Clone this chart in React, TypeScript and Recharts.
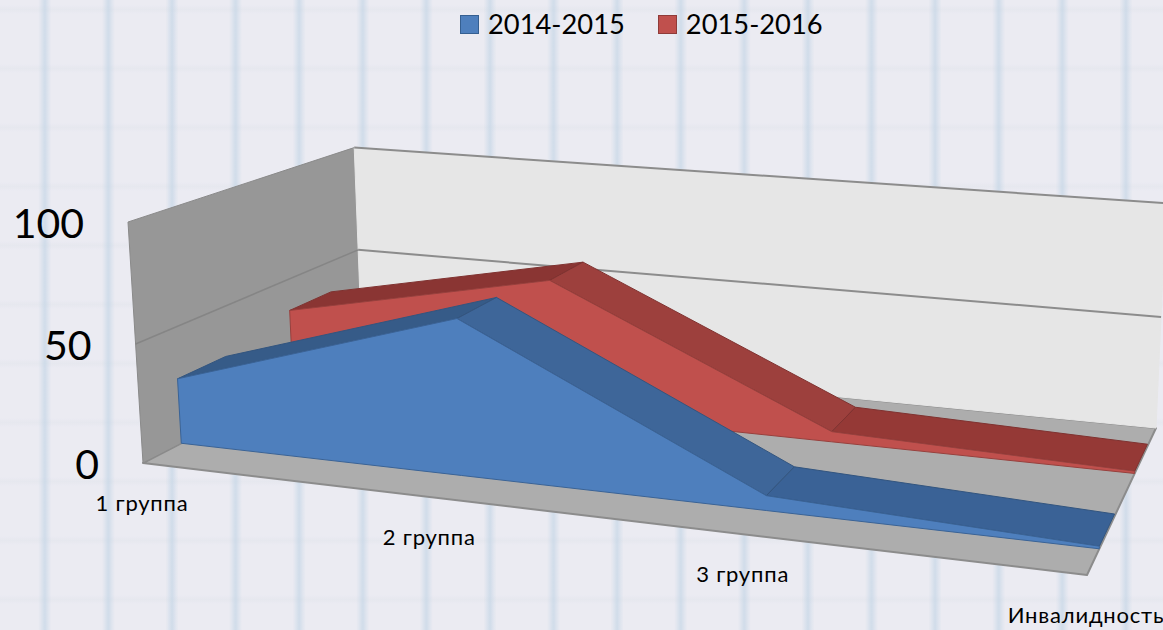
import { ScatterChart, Scatter, XAxis, YAxis, Legend } from "recharts";

const WIDTH = 1163;
const HEIGHT = 630;

const categories = ["1 группа", "2 группа", "3 группа", "Инвалидность"];
const seriesNames = ["2014-2015", "2015-2016"];
const values2014 = [28, 65, 6, 1];
const values2015 = [35.5, 60, 4.5, 1];
const valueTicks = [0, 50, 100];

const seriesColors = [
  { front: "#4e7fbd", edge: "#3a6396", strips: ["#365b88", "#3e6699", "#3a6296"], crease: "#33557f", legend: "#355f91" },
  { front: "#c0504d", edge: "#98403d", strips: ["#8a3533", "#9d403d", "#953936"], crease: "#7f3230", legend: "#8f3b39" },
];
const seriesDepths = [
  [0.15, 0.35],
  [0.645, 0.85],
];

// corners of the 3D box on the page, everything else goes through project()
const P0 = [143, 463];
const PU = [1087, 575];
const PD = [362, 350];
const PUD = [1156, 428];
const PV = [128, 222];
const WV = 0.975;

const a1 = PU[0] - PUD[0];
const b1 = PD[0] - PUD[0];
const c1 = P0[0] - PUD[0];
const a2 = PU[1] - PUD[1];
const b2 = PD[1] - PUD[1];
const c2 = P0[1] - PUD[1];
const det = a1 * b2 - b1 * a2;
const WU = (c1 * b2 - b1 * c2) / det;
const WD = (a1 * c2 - c1 * a2) / det;

// u: 0..1 along categories, value: 0..100, d: 0..1 into the depth
function project(u: number, value: number, d: number) {
  const v = value / 100;
  const hx = P0[0] + u * (WU * PU[0] - P0[0]) + d * (WD * PD[0] - P0[0]) + v * (WV * PV[0] - P0[0]);
  const hy = P0[1] + u * (WU * PU[1] - P0[1]) + d * (WD * PD[1] - P0[1]) + v * (WV * PV[1] - P0[1]);
  const w = 1 + u * (WU - 1) + d * (WD - 1) + v * (WV - 1);
  return { x: hx / w, y: hy / w };
}

const uOf = (i: number) => i / (categories.length - 1);

type Pt = { x: number; y: number; label?: string };

function face(key: string, data: Pt[], fill: string, stroke: string, strokeWidth = 1) {
  return (
    <Scatter
      key={key}
      data={data}
      isAnimationActive={false}
      legendType="none"
      shape={() => <g />}
      line={(p: any) => (
        <polygon
          points={p.points.map((q: Pt) => `${q.x},${q.y}`).join(" ")}
          fill={fill}
          stroke={stroke}
          strokeWidth={strokeWidth}
          strokeLinejoin="round"
        />
      )}
    />
  );
}

function rule(key: string, data: Pt[], stroke: string, strokeWidth: number) {
  return (
    <Scatter
      key={key}
      data={data}
      isAnimationActive={false}
      legendType="none"
      shape={() => <g />}
      line={(p: any) => (
        <polyline
          points={p.points.map((q: Pt) => `${q.x},${q.y}`).join(" ")}
          fill="none"
          stroke={stroke}
          strokeWidth={strokeWidth}
        />
      )}
    />
  );
}

function labels(key: string, data: Pt[], fontSize: number, anchor: "middle" | "end", spacing = 0) {
  return (
    <Scatter
      key={key}
      data={data}
      isAnimationActive={false}
      legendType="none"
      shape={(p: any) => (
        <text
          x={p.cx}
          y={p.cy}
          textAnchor={anchor}
          dominantBaseline="central"
          fontSize={fontSize}
          fontFamily="Lato"
          letterSpacing={spacing}
          fill="#000"
        >
          {p.payload.label}
        </text>
      )}
    />
  );
}

function seriesFaces(values: number[], index: number) {
  const [dFront, dBack] = seriesDepths[index];
  const c = seriesColors[index];
  const top = values.map((v, i) => project(uOf(i), v, dFront));
  const base = values.map((_, i) => project(uOf(i), 0, dFront)).reverse();
  const strips = values.slice(1).map((v, i) =>
    face(
      `strip-${index}-${i}`,
      [
        project(uOf(i), values[i], dFront),
        project(uOf(i), values[i], dBack),
        project(uOf(i + 1), v, dBack),
        project(uOf(i + 1), v, dFront),
      ],
      c.strips[i],
      c.crease
    )
  );
  return [...strips, face(`front-${index}`, [...top, ...base], c.front, c.edge)];
}

const seriesLegend = () => (
  <div
    style={{
      display: "flex",
      justifyContent: "flex-start",
      paddingLeft: 460,
      fontFamily: "Lato",
      fontSize: 27.3,
      lineHeight: "32px",
      color: "#000",
    }}
  >
    {seriesNames.map((name, i) => (
      <span key={name} style={{ display: "flex", alignItems: "center", marginRight: 33 }}>
        <span
          style={{
            width: 17,
            height: 17,
            marginRight: 9,
            background: seriesColors[i].front,
            border: `1px solid ${seriesColors[i].legend}`,
          }}
        />
        {name}
      </span>
    ))}
  </div>
);

const paper = {
  backgroundColor: "#ebebf2",
  backgroundImage: [
    "linear-gradient(90deg, rgba(190,210,228,0) 40%, rgba(190,210,228,0.6) 50%, rgba(190,210,228,0) 60%)",
    "linear-gradient(0deg, rgba(200,210,220,0) 42%, rgba(200,210,220,0.14) 50%, rgba(200,210,220,0) 58%)",
  ].join(","),
  backgroundSize: "63.6px 100%, 100% 59px",
  backgroundPosition: "13px 0, 0 39px",
};

export default function App() {
  const wallLeft = [project(0, 0, 0), project(0, 100, 0), project(0, 100, 1), project(0, 0, 1)];
  const wallBack = [project(0, 0, 1), project(0, 100, 1), project(1, 100, 1), project(1, 0, 1)];
  const floor = [project(0, 0, 0), project(0, 0, 1), project(1, 0, 1), project(1, 0, 0)];

  const tickData = valueTicks.map((t) => {
    const p = project(0, t, 0);
    return { x: p.x - 44, y: p.y, label: String(t) };
  });
  const categoryData = categories.map((label, i) => {
    const p = project(uOf(i), 0, 0);
    return { x: p.x - 1, y: p.y + 39, label };
  });

  return (
    <div
      style={{
        position: "fixed",
        left: 0,
        top: 0,
        width: WIDTH,
        height: HEIGHT,
        overflow: "hidden",
        ...paper,
      }}
    >
      <ScatterChart width={WIDTH} height={HEIGHT} margin={{ top: 0, right: 0, bottom: 0, left: 0 }}>
        <XAxis type="number" dataKey="x" domain={[0, WIDTH]} hide allowDataOverflow />
        <YAxis type="number" dataKey="y" domain={[0, HEIGHT]} reversed hide allowDataOverflow />
        <Legend
          layout="horizontal"
          verticalAlign="middle"
          align="center"
          content={seriesLegend}
          wrapperStyle={{ top: 8, left: 0, width: WIDTH }}
        />
        {face("floor", floor, "#adadad", "#8c8c8c", 2)}
        {face("wall-left", wallLeft, "#979797", "#8a8a8a", 1)}
        {face("wall-back", wallBack, "#e6e6e6", "#e6e6e6", 1)}
        {rule("top-back", [project(0, 100, 1), project(1, 100, 1)], "#8c8c8c", 2)}
        {rule("mid-back", [project(0, 50, 1), project(1, 50, 1)], "#8c8c8c", 2)}
        {rule("mid-left", [project(0, 50, 0), project(0, 50, 1)], "#858585", 1.5)}
        {seriesFaces(values2015, 1)}
        {seriesFaces(values2014, 0)}
        {labels("value-ticks", tickData, 41, "end")}
        {labels("category-ticks", categoryData, 22, "middle", 0.8)}
      </ScatterChart>
    </div>
  );
}
